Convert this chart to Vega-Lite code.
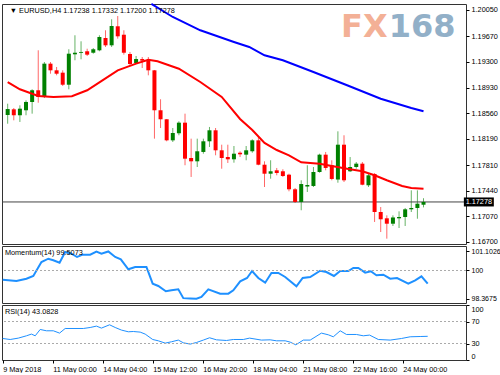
{
"$schema":"https://vega.github.io/schema/vega-lite/v6.json",
"background":"white",
"padding":{"left":-2,"top":-1,"right":0,"bottom":0},
"spacing":2,
"bounds":"flush",
"config":{
 "view":{"stroke":"#333","strokeWidth":1},
 "axis":{"domain":false,"grid":false,"tickSize":3,"tickColor":"#000","labelPadding":2,"labelFont":"Liberation Sans","labelFontSize":7.3,"labelColor":"#000","labelOverlap":false},
 "text":{"font":"Liberation Sans","fontSize":7.3}
},
"datasets":{
"candles":[
{"i":0,"o":1.18534,"h":1.18697,"l":1.18408,"c":1.18620},
{"i":1,"o":1.18616,"h":1.18635,"l":1.18457,"c":1.18530},
{"i":2,"o":1.18530,"h":1.18674,"l":1.18433,"c":1.18625},
{"i":3,"o":1.18602,"h":1.18746,"l":1.18530,"c":1.18722},
{"i":4,"o":1.18722,"h":1.18905,"l":1.18553,"c":1.18891},
{"i":5,"o":1.18891,"h":1.19468,"l":1.18711,"c":1.18794},
{"i":6,"o":1.18794,"h":1.19299,"l":1.18779,"c":1.19275},
{"i":7,"o":1.19275,"h":1.19299,"l":1.19130,"c":1.19179},
{"i":8,"o":1.19179,"h":1.19227,"l":1.19107,"c":1.19130},
{"i":9,"o":1.19145,"h":1.19179,"l":1.18953,"c":1.18971},
{"i":10,"o":1.18971,"h":1.19483,"l":1.18905,"c":1.19419},
{"i":11,"o":1.19410,"h":1.19685,"l":1.19324,"c":1.19433},
{"i":12,"o":1.19432,"h":1.19598,"l":1.19338,"c":1.19444},
{"i":13,"o":1.19454,"h":1.19491,"l":1.19386,"c":1.19405},
{"i":14,"o":1.19433,"h":1.19501,"l":1.19419,"c":1.19483},
{"i":15,"o":1.19468,"h":1.19685,"l":1.19454,"c":1.19660},
{"i":16,"o":1.19646,"h":1.19757,"l":1.19516,"c":1.19540},
{"i":17,"o":1.19540,"h":1.19916,"l":1.19516,"c":1.19819},
{"i":18,"o":1.19815,"h":1.19963,"l":1.19636,"c":1.19670},
{"i":19,"o":1.19693,"h":1.19757,"l":1.19405,"c":1.19433},
{"i":20,"o":1.19415,"h":1.19444,"l":1.19241,"c":1.19270},
{"i":21,"o":1.19285,"h":1.19386,"l":1.19270,"c":1.19342},
{"i":22,"o":1.19342,"h":1.19371,"l":1.19212,"c":1.19318},
{"i":23,"o":1.19324,"h":1.19371,"l":1.19107,"c":1.19179},
{"i":24,"o":1.19179,"h":1.19184,"l":1.18192,"c":1.18602},
{"i":25,"o":1.18602,"h":1.18761,"l":1.18346,"c":1.18472},
{"i":26,"o":1.18472,"h":1.18476,"l":1.18154,"c":1.18168},
{"i":27,"o":1.18168,"h":1.18346,"l":1.18144,"c":1.18274},
{"i":28,"o":1.18270,"h":1.18443,"l":1.18241,"c":1.18423},
{"i":29,"o":1.18423,"h":1.18553,"l":1.17808,"c":1.17903},
{"i":30,"o":1.17913,"h":1.18192,"l":1.17639,"c":1.17865},
{"i":31,"o":1.17865,"h":1.18192,"l":1.17783,"c":1.18010},
{"i":32,"o":1.18000,"h":1.18192,"l":1.17975,"c":1.18154},
{"i":33,"o":1.18154,"h":1.18361,"l":1.18072,"c":1.18313},
{"i":34,"o":1.18313,"h":1.18346,"l":1.17952,"c":1.18024},
{"i":35,"o":1.18024,"h":1.18105,"l":1.17758,"c":1.17913},
{"i":36,"o":1.17927,"h":1.18105,"l":1.17841,"c":1.17894},
{"i":37,"o":1.17894,"h":1.18086,"l":1.17845,"c":1.17975},
{"i":38,"o":1.17989,"h":1.18010,"l":1.17927,"c":1.17966},
{"i":39,"o":1.17961,"h":1.18086,"l":1.17880,"c":1.18024},
{"i":40,"o":1.18010,"h":1.18183,"l":1.17989,"c":1.18168},
{"i":41,"o":1.18168,"h":1.18231,"l":1.17808,"c":1.17816},
{"i":42,"o":1.17816,"h":1.17865,"l":1.17494,"c":1.17686},
{"i":43,"o":1.17686,"h":1.17880,"l":1.17614,"c":1.17721},
{"i":44,"o":1.17735,"h":1.17769,"l":1.17663,"c":1.17696},
{"i":45,"o":1.17721,"h":1.17750,"l":1.17639,"c":1.17653},
{"i":46,"o":1.17672,"h":1.17686,"l":1.17432,"c":1.17461},
{"i":47,"o":1.17461,"h":1.17480,"l":1.17263,"c":1.17278},
{"i":48,"o":1.17278,"h":1.17591,"l":1.17158,"c":1.17537},
{"i":49,"o":1.17501,"h":1.17808,"l":1.17422,"c":1.17523},
{"i":50,"o":1.17509,"h":1.17783,"l":1.17494,"c":1.17711},
{"i":51,"o":1.17711,"h":1.17975,"l":1.17701,"c":1.17961},
{"i":52,"o":1.17961,"h":1.18000,"l":1.17735,"c":1.17769},
{"i":53,"o":1.17808,"h":1.17880,"l":1.17591,"c":1.17610},
{"i":54,"o":1.17602,"h":1.18298,"l":1.17556,"c":1.18105},
{"i":55,"o":1.18105,"h":1.18241,"l":1.17566,"c":1.17591},
{"i":56,"o":1.17721,"h":1.17927,"l":1.17711,"c":1.17783},
{"i":57,"o":1.17783,"h":1.17855,"l":1.17758,"c":1.17831},
{"i":58,"o":1.17831,"h":1.17855,"l":1.17519,"c":1.17527},
{"i":59,"o":1.17519,"h":1.17686,"l":1.17494,"c":1.17663},
{"i":60,"o":1.17682,"h":1.17696,"l":1.16989,"c":1.17133},
{"i":61,"o":1.17133,"h":1.17205,"l":1.16844,"c":1.17028},
{"i":62,"o":1.17042,"h":1.17085,"l":1.16748,"c":1.16964},
{"i":63,"o":1.16964,"h":1.17085,"l":1.16931,"c":1.17054},
{"i":64,"o":1.17042,"h":1.17143,"l":1.16902,"c":1.17061},
{"i":65,"o":1.17061,"h":1.17191,"l":1.16931,"c":1.17172},
{"i":66,"o":1.17172,"h":1.17446,"l":1.17133,"c":1.17191},
{"i":67,"o":1.17191,"h":1.17446,"l":1.17036,"c":1.17253},
{"i":68,"o":1.17238,"h":1.17332,"l":1.17200,"c":1.17278}
],
"ma_red":[
{"i":0,"v":1.19010},{"i":2,"v":1.18905},{"i":5,"v":1.18808},{"i":7.5,"v":1.18794},{"i":10.5,"v":1.18804},{"i":13,"v":1.18891},{"i":15.5,"v":1.19035},{"i":18,"v":1.19179},{"i":21,"v":1.19275},{"i":23,"v":1.19332},{"i":24.5,"v":1.19309},{"i":28,"v":1.19202},{"i":31.5,"v":1.19010},{"i":35,"v":1.18794},{"i":38,"v":1.18476},{"i":40,"v":1.18317},{"i":42,"v":1.18130},{"i":44,"v":1.18028},{"i":46,"v":1.17952},{"i":48,"v":1.17851},{"i":51,"v":1.17831},{"i":53,"v":1.17797},{"i":55.5,"v":1.17758},{"i":58,"v":1.17721},{"i":60,"v":1.17663},{"i":62,"v":1.17591},{"i":64.5,"v":1.17509},{"i":66,"v":1.17480},{"i":68,"v":1.17470}
],
"ma_blue":[
{"i":23.5,"v":1.20137},{"i":27,"v":1.19949},{"i":31.5,"v":1.19757},{"i":37,"v":1.19588},{"i":39.5,"v":1.19516},{"i":42,"v":1.19396},{"i":45,"v":1.19324},{"i":50,"v":1.19155},{"i":55.5,"v":1.18963},{"i":61,"v":1.18769},{"i":66,"v":1.18635},{"i":68,"v":1.18587}
],
"mom":[
{"i":0,"v":99.467},{"i":2.2,"v":99.392},{"i":3.8,"v":99.525},{"i":4.9,"v":99.682},{"i":6.2,"v":100.492},{"i":7.3,"v":100.683},{"i":8.1,"v":100.591},{"i":9.1,"v":100.452},{"i":10,"v":101.071},{"i":11,"v":100.973},{"i":11.9,"v":100.782},{"i":12.8,"v":100.915},{"i":14,"v":100.915},{"i":15,"v":101.09},{"i":15.8,"v":100.973},{"i":16.9,"v":101.1026},{"i":18,"v":100.782},{"i":18.9,"v":100.648},{"i":20.1,"v":100.069},{"i":21.2,"v":100.203},{"i":23,"v":100.203},{"i":24,"v":99.236},{"i":24.9,"v":99.103},{"i":26.1,"v":98.796},{"i":27,"v":98.854},{"i":28.1,"v":98.911},{"i":28.9,"v":98.40},{"i":30,"v":98.38},{"i":31,"v":98.3675},{"i":31.8,"v":98.466},{"i":32.9,"v":98.911},{"i":34.8,"v":98.657},{"i":36.1,"v":98.657},{"i":36.9,"v":98.854},{"i":38,"v":99.375},{"i":39.1,"v":99.566},{"i":39.9,"v":99.971},{"i":40.9,"v":99.566},{"i":42,"v":99.294},{"i":43,"v":99.855},{"i":44.1,"v":99.855},{"i":45.2,"v":99.624},{"i":47,"v":99.085},{"i":48,"v":99.566},{"i":49.2,"v":99.624},{"i":50.8,"v":99.988},{"i":51.8,"v":99.913},{"i":53,"v":99.682},{"i":54,"v":99.971},{"i":55.3,"v":99.971},{"i":56.1,"v":100.145},{"i":56.9,"v":100.145},{"i":58,"v":99.873},{"i":58.9,"v":99.954},{"i":59.8,"v":99.722},{"i":60.9,"v":99.757},{"i":62,"v":99.525},{"i":63.1,"v":99.566},{"i":64.9,"v":99.236},{"i":66,"v":99.433},{"i":67,"v":99.664},{"i":68,"v":99.236}
],
"rsi":[
{"i":0,"v":39.1},{"i":1.2,"v":37.3},{"i":2.5,"v":39.8},{"i":3.8,"v":44.0},{"i":4.6,"v":47.1},{"i":5.2,"v":44.0},{"i":6,"v":55.5},{"i":7,"v":53.1},{"i":8.1,"v":53.1},{"i":9.1,"v":48.9},{"i":10,"v":57.3},{"i":12.9,"v":57.3},{"i":14,"v":59.1},{"i":15,"v":61.6},{"i":15.8,"v":58.0},{"i":17.1,"v":64.0},{"i":18,"v":59.1},{"i":19,"v":54.4},{"i":20.1,"v":51.3},{"i":20.9,"v":51.8},{"i":22,"v":50.7},{"i":22.8,"v":47.1},{"i":24,"v":37.3},{"i":24.9,"v":34.9},{"i":26,"v":30.7},{"i":27,"v":33.1},{"i":28.1,"v":36.2},{"i":28.9,"v":31.3},{"i":30,"v":28.9},{"i":31,"v":31.8},{"i":32.1,"v":36.2},{"i":33.1,"v":40.4},{"i":34.2,"v":36.7},{"i":35.8,"v":35.5},{"i":36.9,"v":37.3},{"i":38.5,"v":37.3},{"i":39.5,"v":39.8},{"i":41.4,"v":36.2},{"i":42.8,"v":36.7},{"i":43.8,"v":34.9},{"i":45.2,"v":34.9},{"i":46,"v":32.5},{"i":46.9,"v":27.6},{"i":48.1,"v":36.2},{"i":49.2,"v":36.2},{"i":51,"v":48.9},{"i":52.1,"v":45.8},{"i":52.9,"v":42.2},{"i":54,"v":53.1},{"i":55,"v":46.4},{"i":56.6,"v":46.4},{"i":57.7,"v":44.0},{"i":58.7,"v":45.3},{"i":60.1,"v":37.3},{"i":62,"v":36.2},{"i":63.8,"v":39.1},{"i":65.2,"v":42.2},{"i":66.8,"v":42.7},{"i":68,"v":43.0828}
],
"last":[{"price":1.17278,"label":"1.17278"}]
},
"vconcat":[
{
"width":464,"height":240,
"layer":[
{"data":{"name":"candles"},"mark":{"type":"rule","strokeWidth":1,"opacity":0.6},
 "encoding":{"x":{"field":"i","type":"quantitative","scale":{"domain":[-0.11,74.13],"nice":false,"zero":false},"axis":null},
  "y":{"field":"l","type":"quantitative","title":null,"scale":{"domain":[1.16671,1.201366],"nice":false,"zero":false},"axis":{"orient":"right","title":null,"labelOverlap":false,"tickCount":30,"values":[1.2005,1.1967,1.193,1.1893,1.1856,1.1819,1.1781,1.1744,1.1707,1.167],"format":".5f"}},"y2":{"field":"h"},
  "color":{"condition":{"test":"datum.c >= datum.o","value":"#008000"},"value":"#ff0000"}}},
{"data":{"values":[{"t":"FX"}]},"mark":{"type":"text","font":"DejaVu Sans","fontWeight":"bold","fontSize":32,"align":"right","baseline":"alphabetic","color":"#F2A384","opacity":0.85},
 "encoding":{"x":{"datum":62.13,"scale":{"domain":[-0.11,74.13],"nice":false,"zero":false},"axis":null},"y":{"datum":1.1966,"title":null,"scale":{"domain":[1.16671,1.201366],"nice":false,"zero":false}},"text":{"field":"t"}}},
{"data":{"values":[{"t":"168"}]},"mark":{"type":"text","font":"DejaVu Sans","fontWeight":"bold","fontSize":32,"align":"left","baseline":"alphabetic","color":"#7FA3BF","opacity":0.85},
 "encoding":{"x":{"datum":62.3,"scale":{"domain":[-0.11,74.13],"nice":false,"zero":false},"axis":null},"y":{"datum":1.1966,"title":null,"scale":{"domain":[1.16671,1.201366],"nice":false,"zero":false}},"text":{"field":"t"}}},
{"data":{"name":"last"},"mark":{"type":"rule","color":"#444","strokeWidth":1},
 "encoding":{"y":{"field":"price","type":"quantitative","title":null,"scale":{"domain":[1.16671,1.201366],"nice":false,"zero":false}}}},
{"data":{"name":"candles"},"mark":{"type":"bar","size":4},
 "encoding":{"x":{"field":"i","type":"quantitative","scale":{"domain":[-0.11,74.13],"nice":false,"zero":false},"axis":null},
  "y":{"field":"o","type":"quantitative","title":null,"scale":{"domain":[1.16671,1.201366],"nice":false,"zero":false}},"y2":{"field":"c"},
  "color":{"condition":{"test":"datum.c >= datum.o","value":"#008000"},"value":"#ff0000"}}},
{"data":{"name":"ma_red"},"mark":{"type":"line","color":"#ff0000","strokeWidth":2},
 "encoding":{"x":{"field":"i","type":"quantitative","scale":{"domain":[-0.11,74.13],"nice":false,"zero":false},"axis":null},
  "y":{"field":"v","type":"quantitative","title":null,"scale":{"domain":[1.16671,1.201366],"nice":false,"zero":false}}}},
{"data":{"name":"ma_blue"},"mark":{"type":"line","color":"#0000ff","strokeWidth":2},
 "encoding":{"x":{"field":"i","type":"quantitative","scale":{"domain":[-0.11,74.13],"nice":false,"zero":false},"axis":null},
  "y":{"field":"v","type":"quantitative","title":null,"scale":{"domain":[1.16671,1.201366],"nice":false,"zero":false}}}},
{"data":{"name":"last"},"mark":{"type":"rect","color":"#000"},
 "encoding":{"x":{"datum":74.6,"scale":{"domain":[-0.11,74.13],"nice":false,"zero":false},"axis":null},"x2":{"datum":79.5},
  "y":{"datum":1.17343,"title":null,"scale":{"domain":[1.16671,1.201366],"nice":false,"zero":false}},"y2":{"datum":1.17213}}},
{"data":{"name":"last"},"mark":{"type":"text","color":"#fff","align":"center","baseline":"middle"},
 "encoding":{"x":{"datum":77.05,"scale":{"domain":[-0.11,74.13],"nice":false,"zero":false},"axis":null},
  "y":{"field":"price","type":"quantitative","title":null,"scale":{"domain":[1.16671,1.201366],"nice":false,"zero":false}},"text":{"field":"label"}}},
{"data":{"values":[{"t":"▼ EURUSD,H4  1.17238 1.17332 1.17200 1.17278"}]},"mark":{"type":"text","align":"left","baseline":"middle","color":"#000"},
 "encoding":{"x":{"datum":0.35,"scale":{"domain":[-0.11,74.13],"nice":false,"zero":false},"axis":null},
  "y":{"datum":1.20036,"title":null,"scale":{"domain":[1.16671,1.201366],"nice":false,"zero":false}},"text":{"field":"t"}}}
]
},
{
"width":464,"height":57,
"layer":[
{"data":{"name":"mom"},"mark":{"type":"line","color":"#1E90FF","strokeWidth":2},
 "encoding":{"x":{"field":"i","type":"quantitative","scale":{"domain":[-0.11,74.13],"nice":false,"zero":false},"axis":null},
  "y":{"field":"v","type":"quantitative","title":null,"scale":{"domain":[98.118,101.4186],"nice":false,"zero":false},
  "axis":{"orient":"right","title":null,"labelOverlap":false,"tickCount":30,"labelFontSize":7,"values":[98.3675,100,101.1026],"format":".4~f"}}}},
{"data":{"values":[{"lvl":100}]},"mark":{"type":"rule","color":"#aaa","strokeDash":[2,2]},
 "encoding":{"y":{"field":"lvl","type":"quantitative","title":null,"scale":{"domain":[98.118,101.4186],"nice":false,"zero":false}}}},
{"data":{"values":[{"t":"Momentum(14) 99.5073"}]},"mark":{"type":"text","align":"left","baseline":"middle","color":"#000"},
 "encoding":{"x":{"datum":0.35,"scale":{"domain":[-0.11,74.13],"nice":false,"zero":false},"axis":null},
  "y":{"datum":101.0,"title":null,"scale":{"domain":[98.118,101.4186],"nice":false,"zero":false}},"text":{"field":"t"}}}
]
},
{
"width":464,"height":55,
"layer":[
{"data":{"name":"rsi"},"mark":{"type":"line","color":"#1E90FF","strokeWidth":1},
 "encoding":{"x":{"field":"i","type":"quantitative","title":null,"scale":{"domain":[-0.11,74.13],"nice":false,"zero":false},
  "axis":{"orient":"bottom","title":null,"tickCount":30,"values":[0,8,16,24,32,40,48,56,64],"labelAlign":"left","labelOverlap":false,"labelBound":false,"labelFlush":false,
   "labelExpr":"datum.value == 0 ? '9 May 2018' : datum.value == 8 ? '11 May 00:00' : datum.value == 16 ? '14 May 04:00' : datum.value == 24 ? '15 May 12:00' : datum.value == 32 ? '16 May 20:00' : datum.value == 40 ? '18 May 04:00' : datum.value == 48 ? '21 May 08:00' : datum.value == 56 ? '22 May 16:00' : '24 May 00:00'"}},
  "y":{"field":"v","type":"quantitative","title":null,"scale":{"domain":[0,100],"nice":false,"zero":false},"axis":{"orient":"right","title":null,"labelOverlap":false,"tickCount":30,"values":[0,30,70,100],"labelFlush":true}}}},
{"data":{"values":[{"lvl":30},{"lvl":70}]},"mark":{"type":"rule","color":"#aaa","strokeDash":[2,2]},
 "encoding":{"y":{"field":"lvl","type":"quantitative","title":null,"scale":{"domain":[0,100],"nice":false,"zero":false}}}},
{"data":{"values":[{"t":"RSI(14) 43.0828"}]},"mark":{"type":"text","align":"left","baseline":"middle","color":"#000"},
 "encoding":{"x":{"datum":0.35,"title":null,"scale":{"domain":[-0.11,74.13],"nice":false,"zero":false}},
  "y":{"datum":88,"title":null,"scale":{"domain":[0,100],"nice":false,"zero":false}},"text":{"field":"t"}}}
]
}
]
}
